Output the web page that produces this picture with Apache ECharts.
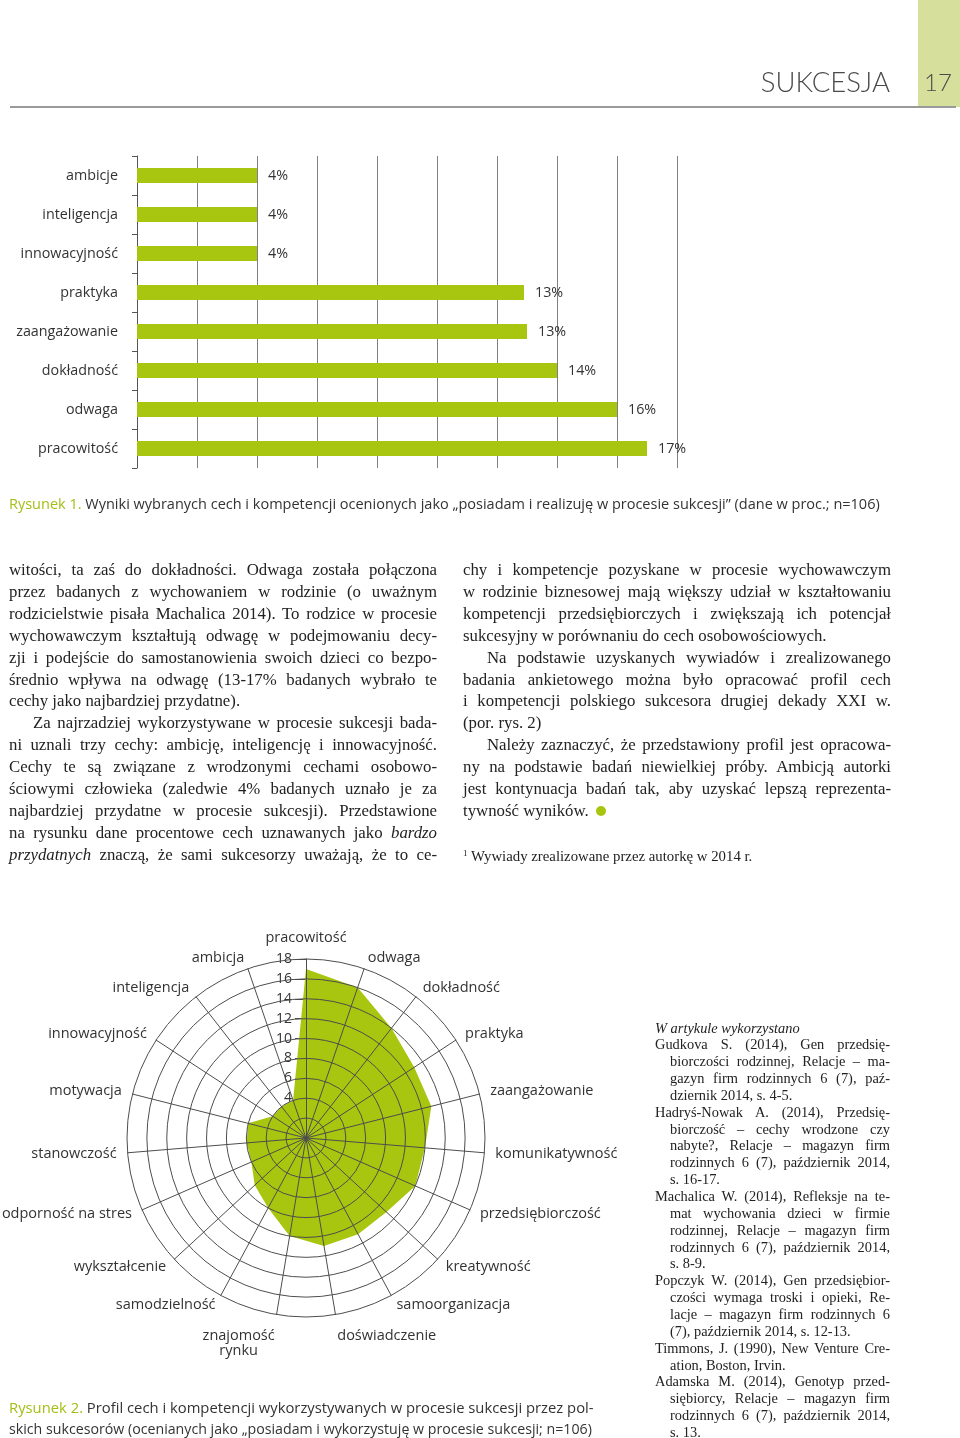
<!DOCTYPE html>
<html><head><meta charset="utf-8">
<script src="https://cdn.jsdelivr.net/npm/echarts@6/dist/echarts.min.js"></script>
<style>
html,body{margin:0;padding:0;background:#fff;}
#page{position:relative;width:960px;height:1438px;overflow:hidden;}
#chart{position:absolute;left:0;top:0;width:960px;height:1438px;}
.t{position:absolute;white-space:nowrap;color:#333;}
.sans{font-family:"Open Sans",sans-serif;}
.serif{font-family:"Liberation Serif",serif;color:#222;}
.jl{position:absolute;text-align:justify;text-align-last:justify;white-space:nowrap;}
.jl.last{text-align-last:left;}
.green{color:#a3bf14;}
</style></head>
<body><div id="page">
<div id="chart"></div>
<div style="position:absolute;left:918px;top:0;width:42px;height:107px;background:#d6df9b;"></div>
<div style="position:absolute;left:10px;top:106px;width:946px;height:1.5px;background:#9a9a9a;"></div>
<div class="t" style="right:70px;top:64px;font-family:Lato,sans-serif;font-weight:300;font-size:27.5px;line-height:36px;color:#4a4a4a;">SUKCESJA</div>
<div class="t" style="left:918px;width:40px;text-align:center;top:66px;font-family:Lato,sans-serif;font-weight:300;font-size:24px;line-height:32px;color:#4a4a4a;">17</div>
<div class="t sans" style="left:9px;top:494px;font-size:14.5px;line-height:20px;color:#333;"><span class="green">Rysunek 1.</span> Wyniki wybranych cech i kompetencji ocenionych jako „posiadam i realizuję w procesie sukcesji” (dane w proc.; n=106)</div>
<div class="t sans" style="left:9px;top:1397px;font-size:14.8px;line-height:21px;color:#333;"><span class="green">Rysunek 2.</span> Profil cech i kompetencji wykorzystywanych w procesie sukcesji przez pol-</div>
<div class="t sans" style="left:9px;top:1418px;font-size:14.2px;line-height:21px;color:#333;">skich sukcesorów (ocenianych jako „posiadam i wykorzystuję w procesie sukcesji; n=106)</div>
<div id="text"></div>
</div>
<script>
// ---- Figure 1 data (bar chart) ----
const barCategories = ['ambicje','inteligencja','innowacyjność','praktyka','zaangażowanie','dokładność','odwaga','pracowitość'];
const barValues = [4, 4, 4, 12.9, 13, 14, 16, 17];
const barTicks = [0, 18, 2]; // min, max, interval

// ---- Figure 2 data (radar), clockwise from the top ----
const radarCategories = ['pracowitość','odwaga','dokładność','praktyka','zaangażowanie','komunikatywność','przedsiębiorczość','kreatywność','samoorganizacja','doświadczenie','znajomość\nrynku','samodzielność','wykształcenie','odporność na stres','stanowczość','motywacja','innowacyjność','inteligencja','ambicja'];
const radarValues = [17, 16, 14, 13, 13, 12, 12, 11, 11, 11, 10, 8, 7, 6, 6, 6, 4, 4, 4];
const radarMax = 18;
const radarStep = 2;

const GREEN = '#a8c50f';
const SANS = '"Open Sans", sans-serif';
const LINE = '#4d4d4d';

// ECharts lays radar indicators counter-clockwise; reorder to get clockwise
const order = [0].concat(radarCategories.map((_, i) => i).slice(1).reverse());
const indicator = order.map(i => ({ name: radarCategories[i], min: 0, max: radarMax }));
const radarData = order.map(i => radarValues[i]);

// per-label nudges for the radar names (style only)
const nameStyleKey = { 'pracowitość': 'top', 'doświadczenie': 'low' };
function radarName(name) {
  if (name.indexOf('\n') >= 0) {
    const parts = name.split('\n');
    return '{two1|' + parts[0] + '}\n{two2|' + parts[1] + '}';
  }
  const k = nameStyleKey[name] || 'n';
  return '{' + k + '|' + name + '}';
}
const nameFont = { fontSize: 14.5, fontFamily: SANS, color: '#333' };

const chart = echarts.init(document.getElementById('chart'), null, { renderer: 'canvas' });
chart.setOption({
  animation: false,
  grid: [
    { left: 137, top: 156, width: 540, height: 312 },
    { left: 306, top: 959, width: 10, height: 179 }
  ],
  xAxis: [
    { gridIndex: 0, type: 'value', min: barTicks[0], max: barTicks[1], interval: barTicks[2],
      axisLine: { show: false }, axisTick: { show: false }, axisLabel: { show: false },
      splitLine: { show: true, lineStyle: { color: '#808080', width: 1 } } },
    { gridIndex: 1, type: 'value', show: false }
  ],
  yAxis: [
    { gridIndex: 0, type: 'category', inverse: true, data: barCategories,
      axisLine: { show: true, lineStyle: { color: '#555', width: 1 } },
      axisTick: { show: true, length: 5, alignWithLabel: false, lineStyle: { color: '#555' } },
      axisLabel: { color: '#333', fontSize: 14.3, fontFamily: SANS, margin: 19 },
      splitLine: { show: false } },
    { gridIndex: 1, type: 'value', min: 0, max: radarMax, interval: radarStep, position: 'left',
      axisLine: { show: false },
      axisTick: { show: true, length: 11, lineStyle: { color: LINE } },
      axisLabel: { color: '#333', fontSize: 14, fontFamily: SANS, margin: 14 },
      splitLine: { show: false } }
  ],
  radar: {
    center: [306, 1138], radius: 179, startAngle: 90, shape: 'circle',
    splitNumber: radarMax / radarStep,
    indicator: indicator,
    nameGap: 11,
    axisName: Object.assign({}, nameFont, {
      formatter: radarName,
      rich: {
        n: Object.assign({}, nameFont),
        top: Object.assign({ padding: [0, 0, 3, 0] }, nameFont),
        low: Object.assign({ padding: [20, 0, 0, 0] }, nameFont),
        two1: Object.assign({ padding: [36, 0, 0, 0], align: 'center' }, nameFont),
        two2: Object.assign({ align: 'center' }, nameFont)
      }
    }),
    axisLine: { lineStyle: { color: LINE, width: 1 } },
    splitLine: { lineStyle: { color: LINE, width: 1 } },
    splitArea: { show: false },
    z: 5
  },
  series: [
    { type: 'bar', xAxisIndex: 0, yAxisIndex: 0, data: barValues, barWidth: 15,
      itemStyle: { color: GREEN },
      label: { show: true, position: 'right', distance: 11, color: '#333', fontSize: 14.3,
        fontFamily: SANS, formatter: p => Math.round(p.value) + '%' } },
    { type: 'radar', radarIndex: 0, symbol: 'none', z: 2,
      lineStyle: { width: 0 }, areaStyle: { color: GREEN, opacity: 1 },
      data: [{ value: radarData }] }
  ]
});

// ---- body text (line-by-line, justified) ----
const leftCol = [
  'witości, ta zaś do dokładności. Odwaga została połączona',
  'przez badanych z wychowaniem w rodzinie (o uważnym',
  'rodzicielstwie pisała Machalica 2014). To rodzice w procesie',
  'wychowawczym kształtują odwagę w podejmowaniu decy-',
  'zji i podejście do samostanowienia swoich dzieci co bezpo-',
  'średnio wpływa na odwagę (13-17% badanych wybrało te',
  'cechy jako najbardziej przydatne).|',
  '>Za najrzadziej wykorzystywane w procesie sukcesji bada-',
  'ni uznali trzy cechy: ambicję, inteligencję i innowacyjność.',
  'Cechy te są związane z wrodzonymi cechami osobowo-',
  'ściowymi człowieka (zaledwie 4% badanych uznało je za',
  'najbardziej przydatne w procesie sukcesji). Przedstawione',
  'na rysunku dane procentowe cech uznawanych jako <i>bardzo</i>',
  '<i>przydatnych</i> znaczą, że sami sukcesorzy uważają, że to ce-'
];
const rightCol = [
  'chy i kompetencje pozyskane w procesie wychowawczym',
  'w rodzinie biznesowej mają większy udział w kształtowaniu',
  'kompetencji przedsiębiorczych i zwiększają ich potencjał',
  'sukcesyjny w porównaniu do cech osobowościowych.|',
  '>Na podstawie uzyskanych wywiadów i zrealizowanego',
  'badania ankietowego można było opracować profil cech',
  'i kompetencji polskiego sukcesora drugiej dekady XXI w.',
  '(por. rys. 2)|',
  '>Należy zaznaczyć, że przedstawiony profil jest opracowa-',
  'ny na podstawie badań niewielkiej próby. Ambicją autorki',
  'jest kontynuacja badań tak, aby uzyskać lepszą reprezenta-',
  'tywność wyników. <span style="display:inline-block;width:10px;height:10px;border-radius:5px;background:#a8c50f;vertical-align:0px;margin-left:3px;"></span>|'
];
const refs = [
  ['Gudkova S. (2014), Gen przedsię-','biorczości rodzinnej, Relacje – ma-','gazyn firm rodzinnych 6 (7), paź-','dziernik 2014, s. 4-5.'],
  ['Hadryś-Nowak A. (2014), Przedsię-','biorczość – cechy wrodzone czy','nabyte?, Relacje – magazyn firm','rodzinnych 6 (7), październik 2014,','s. 16-17.'],
  ['Machalica W. (2014), Refleksje na te-','mat wychowania dzieci w firmie','rodzinnej, Relacje – magazyn firm','rodzinnych 6 (7), październik 2014,','s. 8-9.'],
  ['Popczyk W. (2014), Gen przedsiębior-','czości wymaga troski i opieki, Re-','lacje – magazyn firm rodzinnych 6','(7), październik 2014, s. 12-13.'],
  ['Timmons, J. (1990), New Venture Cre-','ation, Boston, Irvin.'],
  ['Adamska M. (2014), Genotyp przed-','siębiorcy, Relacje – magazyn firm','rodzinnych 6 (7), październik 2014,','s. 13.']
];

const host = document.getElementById('text');
function line(x, yc, w, lh, fs, html, last) {
  const d = document.createElement('div');
  d.className = 'jl serif' + (last ? ' last' : '');
  d.style.left = x + 'px';
  d.style.top = (yc - lh / 2) + 'px';
  d.style.width = w + 'px';
  d.style.height = lh + 'px';
  d.style.fontSize = fs + 'px';
  d.style.lineHeight = lh + 'px';
  d.innerHTML = html;
  host.appendChild(d);
}
function column(x, y0, w, lines) {
  lines.forEach((s, i) => {
    let last = false, ind = 0;
    if (s.endsWith('|')) { last = true; s = s.slice(0, -1); }
    if (s.startsWith('>')) { ind = 24; s = s.slice(1); }
    line(x + ind, y0 + i * 21.9, w - ind, 22, 16.8, s, last);
  });
}
column(9, 570, 428, leftCol);
column(463, 570, 428, rightCol);
line(463, 856, 400, 18, 14.8, '<span style="font-size:9px;position:relative;top:-5px">1</span> Wywiady zrealizowane przez autorkę w 2014 r.', true);

let y = 1028;
const LH = 16.85;
line(655, y, 235, 17, 14.4, '<i>W artykule wykorzystano</i>', true);
refs.forEach(entry => {
  entry.forEach((s, i) => {
    y += LH;
    const x = i === 0 ? 655 : 670;
    line(x, y, 890 - x, 17, 14.4, s, i === entry.length - 1);
  });
});
</script>
</body></html>
